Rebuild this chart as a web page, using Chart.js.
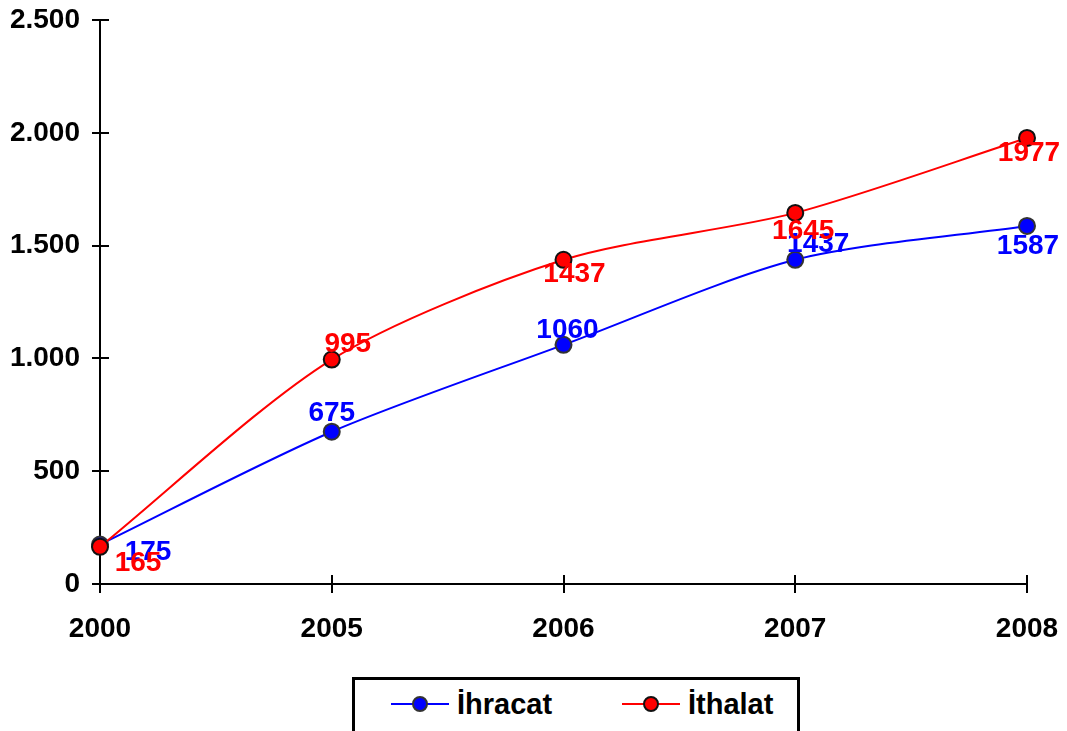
<!DOCTYPE html>
<html>
<head>
<meta charset="utf-8">
<script src="https://cdn.jsdelivr.net/npm/chart.js@4.4.1/dist/chart.umd.min.js"></script>
<style>
  html, body { margin: 0; padding: 0; background: #fff; overflow: hidden; }
  #wrap { position: relative; width: 1067px; height: 731px; }
  #legend {
    position: absolute; left: 352px; top: 677px; width: 448px; height: 60px;
    border: 3px solid #000; box-sizing: border-box; background: #fff;
    font-family: "Liberation Sans", Arial, sans-serif; font-weight: bold; font-size: 29px;
  }
  .item { position: absolute; top: 7px; height: 34px; display: flex; align-items: center; }
  .item svg { margin-right: 8px; }
</style>
</head>
<body>
<div id="wrap">
  <canvas id="c" width="1067" height="731"></canvas>
  <div id="legend"></div>
</div>
<script>
const categories = ['2000', '2005', '2006', '2007', '2008'];
const ihracat = [175, 675, 1060, 1437, 1587];
const ithalat = [165, 995, 1437, 1645, 1977];
const seriesNames = ['İhracat', 'İthalat'];
const yTicks = [0, 500, 1000, 1500, 2000, 2500];

const FONT = '"Liberation Sans", Arial, sans-serif';
const FS = 28;
const fmt = v => String(v).replace(/\B(?=(\d{3})+(?!\d))/g, '.');

const labelPlugin = {
  id: 'pointLabels',
  afterDatasetsDraw(chart, args, opts) {
    const ctx = chart.ctx;
    ctx.save();
    ctx.font = 'bold ' + FS + 'px ' + FONT;
    ctx.textAlign = 'center';
    ctx.textBaseline = 'middle';
    [0, 1].forEach(di => {
      const ds = chart.data.datasets[di];
      const meta = chart.getDatasetMeta(di);
      const offs = opts.offsets[di];
      ctx.fillStyle = ds.borderColor;
      meta.data.forEach((pt, i) => {
        ctx.fillText(String(ds.data[i]), pt.x + offs[i][0], pt.y + offs[i][1]);
      });
    });
    ctx.restore();
  }
};

const innerTicks = {
  id: 'innerTicks',
  afterDraw(chart) {
    const ctx = chart.ctx, x = chart.scales.x, y = chart.scales.y;
    const a = chart.chartArea;
    ctx.save();
    ctx.strokeStyle = '#000';
    ctx.lineWidth = 2;
    ctx.beginPath();
    y.ticks.forEach((t, i) => {
      const py = Math.round(y.getPixelForTick(i));
      ctx.moveTo(a.left, py); ctx.lineTo(a.left + 9, py);
    });
    x.ticks.forEach((t, i) => {
      const px = Math.round(x.getPixelForTick(i));
      ctx.moveTo(px, a.bottom); ctx.lineTo(px, a.bottom - 9);
    });
    ctx.stroke();
    ctx.restore();
  }
};

new Chart(document.getElementById('c'), {
  type: 'line',
  data: {
    labels: categories,
    datasets: [
      {
        label: seriesNames[0], data: ihracat, order: 1,
        borderColor: '#0000FF', backgroundColor: '#0000FF', borderWidth: 2,
        pointRadius: 8, pointBorderWidth: 2, pointBorderColor: '#333333', pointBackgroundColor: '#0000FF',
        tension: 0.28, fill: false
      },
      {
        label: seriesNames[1], data: ithalat, order: 0,
        borderColor: '#FF0000', backgroundColor: '#FF0000', borderWidth: 2,
        pointRadius: 8, pointBorderWidth: 2, pointBorderColor: '#111111', pointBackgroundColor: '#FF0000',
        tension: 0.28, fill: false
      }
    ]
  },
  options: {
    responsive: false,
    animation: false,
    layout: { padding: { top: 20, right: 40, left: 0, bottom: 0 } },
    plugins: {
      legend: { display: false },
      tooltip: { enabled: false },
      pointLabels: {
        offsets: [
          [[48, 8], [0, -18], [4, -15], [23, -16], [1, 20]],
          [[38, 17], [16, -15], [11, 14], [8, 18], [2, 15]]
        ]
      }
    },
    scales: {
      x: {
        offset: false,
        grid: { drawOnChartArea: false, drawTicks: true, tickLength: 9, color: '#000', lineWidth: 2 },
        border: { display: true, color: '#000', width: 2 },
        ticks: { color: '#000', font: { family: FONT, weight: 'bold', size: FS }, padding: 19, maxRotation: 0 },
        afterFit: s => { s.height = 147; s.paddingLeft = 0; s.paddingRight = 0; }
      },
      y: {
        min: 0, max: 2500,
        afterBuildTicks: s => { s.ticks = yTicks.map(v => ({ value: v })); },
        grid: { drawOnChartArea: false, drawTicks: true, tickLength: 8, color: '#000', lineWidth: 2 },
        border: { display: true, color: '#000', width: 2 },
        ticks: { color: '#000', font: { family: FONT, weight: 'bold', size: FS }, padding: 12, callback: v => fmt(v) },
        afterFit: s => { s.width = 100; s.paddingTop = 0; s.paddingBottom = 0; }
      }
    }
  },
  plugins: [labelPlugin, innerTicks]
});

const legendColors = [['#0000FF', '#333333'], ['#FF0000', '#111111']];
const legendLefts = [36, 267];
const lg = document.getElementById('legend');
seriesNames.forEach((name, i) => {
  const d = document.createElement('div');
  d.className = 'item';
  d.style.left = legendLefts[i] + 'px';
  d.innerHTML = '<svg width="58" height="20"><line x1="0" y1="10" x2="58" y2="10" stroke="' + legendColors[i][0] +
    '" stroke-width="2"/><circle cx="29" cy="10" r="7" fill="' + legendColors[i][0] + '" stroke="' + legendColors[i][1] +
    '" stroke-width="2"/></svg><span>' + name + '</span>';
  lg.appendChild(d);
});
</script>
</body>
</html>
